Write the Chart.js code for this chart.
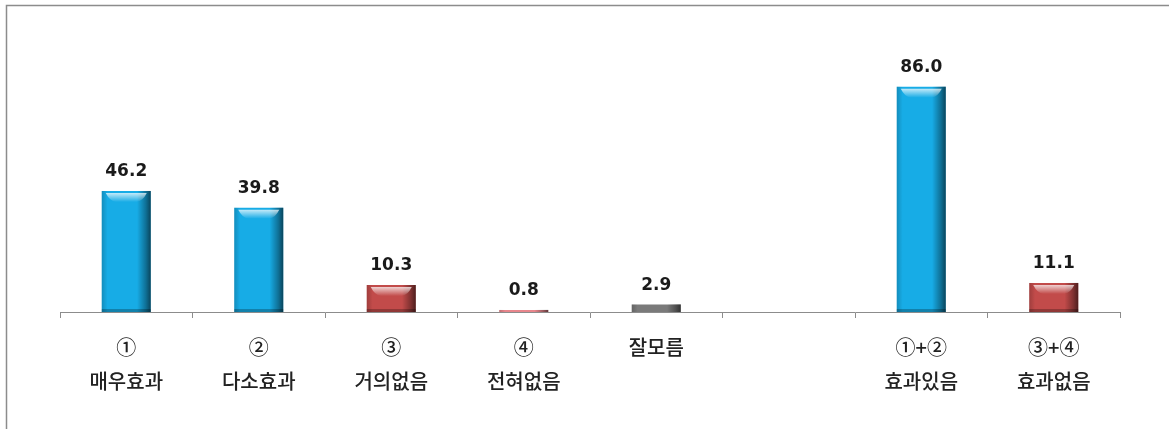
<!DOCTYPE html>
<html>
<head>
<meta charset="utf-8">
<script src="https://cdn.jsdelivr.net/npm/chart.js@4/dist/chart.umd.min.js"></script>
<style>
  html, body { margin: 0; padding: 0; background: #fff; }
  #wrap { position: relative; width: 1169px; height: 429px; }
</style>
</head>
<body>
<div id="wrap"><canvas id="effectChart" width="1169" height="429"></canvas></div>
<script>
const categories = [
  ["①", "매우효과"],
  ["②", "다소효과"],
  ["③", "거의없음"],
  ["④", "전혀없음"],
  "잘모름",
  "",
  ["①+②", "효과있음"],
  ["③+④", "효과없음"],
];
const values = [46.2, 39.8, 10.3, 0.8, 2.9, null, 86.0, 11.1];
const valueLabels = ["46.2", "39.8", "10.3", "0.8", "2.9", "", "86.0", "11.1"];

// bar fills, one per category
const barColors = ["#17ace6", "#17ace6", "#c24b4a", "#e8868c", "#7a7a7a", "#ffffff", "#17ace6", "#c24b4a"];
const GRAY = "#8c8c8c";

// frame lines at top and left, like the pasted picture box
const framePlugin = {
  id: "frame",
  beforeDraw(chart) {
    const { ctx } = chart;
    ctx.save();
    ctx.strokeStyle = GRAY;
    ctx.lineWidth = 1.5;
    ctx.beginPath();
    ctx.moveTo(6.5, chart.height);
    ctx.lineTo(6.5, 5.5);
    ctx.lineTo(chart.width, 5.5);
    ctx.stroke();
    ctx.restore();
  },
};

// bevel shading plus value labels over each bar
const bevelPlugin = {
  id: "bevel",
  afterDatasetsDraw(chart) {
    const { ctx } = chart;
    const meta = chart.getDatasetMeta(0);
    ctx.save();
    meta.data.forEach((bar, i) => {
      if (values[i] == null) return;
      const left = bar.x - bar.width / 2;
      const w = bar.width;
      const top = bar.y;
      const h = bar.base - bar.y;

      const side = ctx.createLinearGradient(left, 0, left + w, 0);
      side.addColorStop(0, "rgba(0,0,0,0.18)");
      side.addColorStop(0.12, "rgba(0,0,0,0)");
      side.addColorStop(0.72, "rgba(0,0,0,0)");
      side.addColorStop(0.9, "rgba(0,0,0,0.35)");
      side.addColorStop(1, "rgba(0,0,0,0.6)");
      ctx.fillStyle = side;
      ctx.fillRect(left, top, w, h);

      if (h > 12) {
        const hl = ctx.createLinearGradient(0, top + 2, 0, top + 11);
        hl.addColorStop(0, "rgba(255,255,255,0.75)");
        hl.addColorStop(1, "rgba(255,255,255,0)");
        ctx.fillStyle = hl;
        ctx.beginPath();
        ctx.moveTo(left + 4, top + 2);
        ctx.lineTo(left + w - 4, top + 2);
        ctx.quadraticCurveTo(left + w - 8, top + 10, left + w - 14, top + 11);
        ctx.lineTo(left + 14, top + 11);
        ctx.quadraticCurveTo(left + 8, top + 10, left + 4, top + 2);
        ctx.fill();
        ctx.fillStyle = "rgba(0,0,0,0.25)";
        ctx.fillRect(left, bar.base - 3, w, 3);
      }

      ctx.fillStyle = "#1a1a1a";
      ctx.font = "bold 17px 'DejaVu Sans', sans-serif";
      ctx.textAlign = "center";
      ctx.textBaseline = "middle";
      ctx.fillText(valueLabels[i], bar.x, top - 19);
    });
    ctx.restore();
  },
};

new Chart(document.getElementById("effectChart"), {
  type: "bar",
  data: {
    labels: categories,
    datasets: [
      {
        data: values,
        backgroundColor: barColors,
        borderWidth: 0,
        barPercentage: 0.37,
        categoryPercentage: 1,
      },
    ],
  },
  options: {
    responsive: false,
    animation: false,
    events: [],
    layout: { padding: { left: 60, right: 49, top: 50, bottom: 0 } },
    plugins: { legend: { display: false }, tooltip: { enabled: false } },
    scales: {
      x: {
        afterFit: (scale) => { scale.height = 117; },
        border: { display: true, color: GRAY, width: 1 },
        grid: {
          display: true,
          offset: true,
          drawOnChartArea: false,
          drawTicks: true,
          tickLength: 6,
          color: GRAY,
        },
        ticks: {
          color: "#222",
          padding: 12,
          maxRotation: 0,
          autoSkip: false,
          font: { family: "'Noto Sans CJK KR', sans-serif", size: 20, weight: "500", lineHeight: "34px" },
        },
      },
      y: {
        display: false,
        min: 0,
        max: 100,
      },
    },
  },
  plugins: [framePlugin, bevelPlugin],
});
</script>
</body>
</html>
